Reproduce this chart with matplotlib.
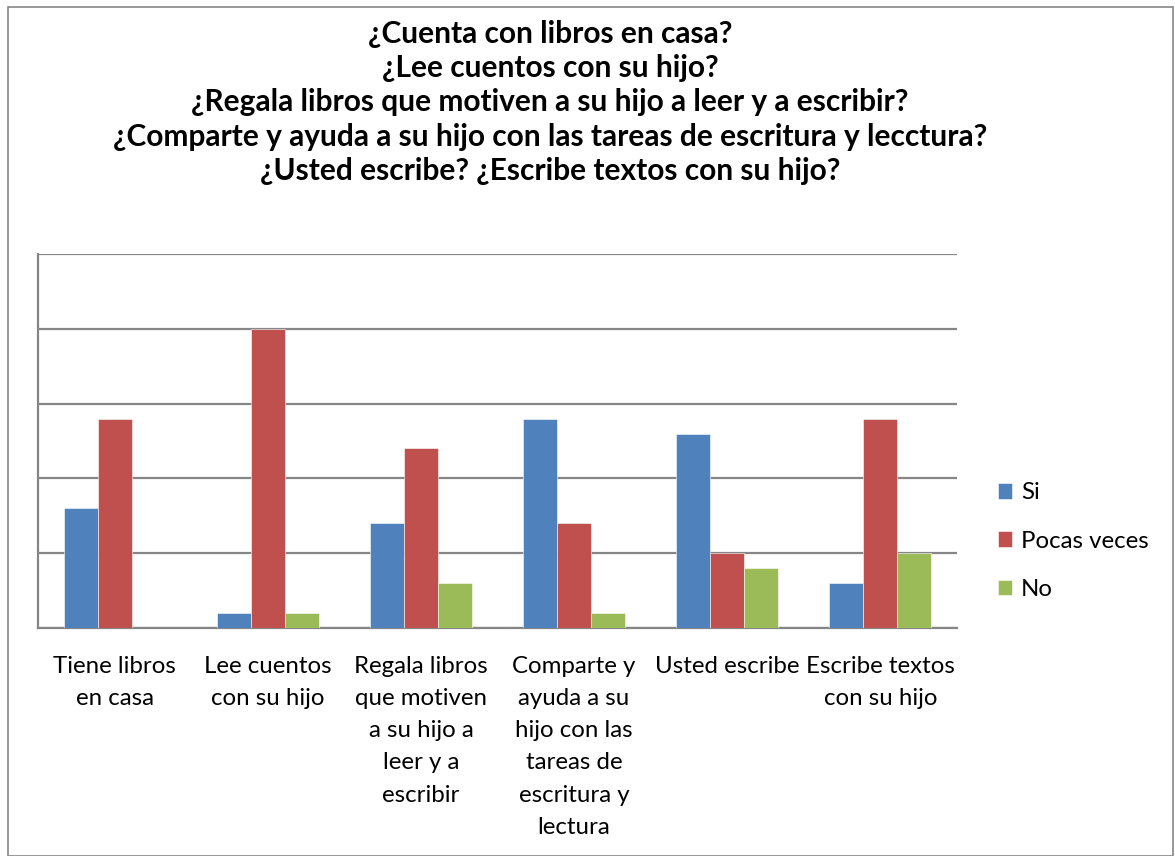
import numpy as np
import matplotlib.pyplot as plt
from matplotlib.patches import Rectangle

# ------------------------------------------------------------
# Data
# ------------------------------------------------------------
categories = ["Tiene libros\nen casa",
              "Lee cuentos\ncon su hijo",
              "Regala libros\nque motiven\na su hijo a\nleer y a\nescribir",
              "Comparte y\nayuda a su\nhijo con las\ntareas de\nescritura y\nlectura",
              "Usted escribe",
              "Escribe textos\ncon su hijo"]
si = [8, 1, 7, 14, 13, 3]
pocas_veces = [14, 20, 12, 7, 5, 14]
no = [0, 1, 3, 1, 4, 5]
series_names = ["Si", "Pocas veces", "No"]
colors = ["#4F81BD", "#C0504D", "#9BBB59"]

title = ("¿Cuenta con libros en casa?\n"
         "¿Lee cuentos con su hijo?\n"
         "¿Regala libros que motiven a su hijo a leer y a escribir?\n"
         "¿Comparte y ayuda a su hijo con las tareas de escritura y lecctura?\n"
         "¿Usted escribe? ¿Escribe textos con su hijo?")

plt.rcParams['font.family'] = ['Lato', 'DejaVu Sans']

# ------------------------------------------------------------
# Figure
# ------------------------------------------------------------
fig = plt.figure(figsize=(11.75, 8.56), dpi=100)
ax = fig.add_axes([38 / 1175, 1 - 628 / 856, 919 / 1175, 374 / 856])

x = np.arange(len(categories))
w = 0.222
for i, (vals, name, c) in enumerate(zip([si, pocas_veces, no], series_names, colors)):
    ax.bar(x + (i - 1) * w, vals, width=w, color=c, label=name,
           edgecolor='white', linewidth=0.4, zorder=3)

ax.set_xlim(-0.5, len(categories) - 0.5)
ax.set_ylim(0, 25)
ax.set_yticks(np.arange(0, 26, 5))
ax.set_yticklabels([])
ax.tick_params(axis='y', length=0)
ax.grid(axis='y', color='#868686', linewidth=1.6, zorder=0)
ax.set_xticks(x)
ax.set_xticklabels(categories, fontsize=17.3)
ax.tick_params(axis='x', length=0, pad=20)
for lbl in ax.get_xticklabels():
    lbl.set_linespacing(1.66)
    lbl.set_verticalalignment('top')
for side in ['top', 'right']:
    ax.spines[side].set_visible(False)
for side in ['left', 'bottom']:
    ax.spines[side].set_color('#868686')
    ax.spines[side].set_linewidth(1.6)

fig.text(550 / 1175, 1 - 20 / 856, title, ha='center', va='top',
         fontsize=21.5, fontweight='bold', linespacing=1.27)

fig.legend(loc='center left', bbox_to_anchor=(998 / 1175, 1 - 541 / 856),
           frameon=False, fontsize=17.3, handlelength=0.6, handleheight=0.6,
           handletextpad=0.35, labelspacing=1.13, borderpad=0, borderaxespad=0)

fig.patches.append(Rectangle((8 / 1175, 0), 1165 / 1175, 1 - 7 / 856,
                             transform=fig.transFigure, fill=False,
                             edgecolor='#868686', linewidth=1.2))

fig.savefig('out.png', dpi=100)
